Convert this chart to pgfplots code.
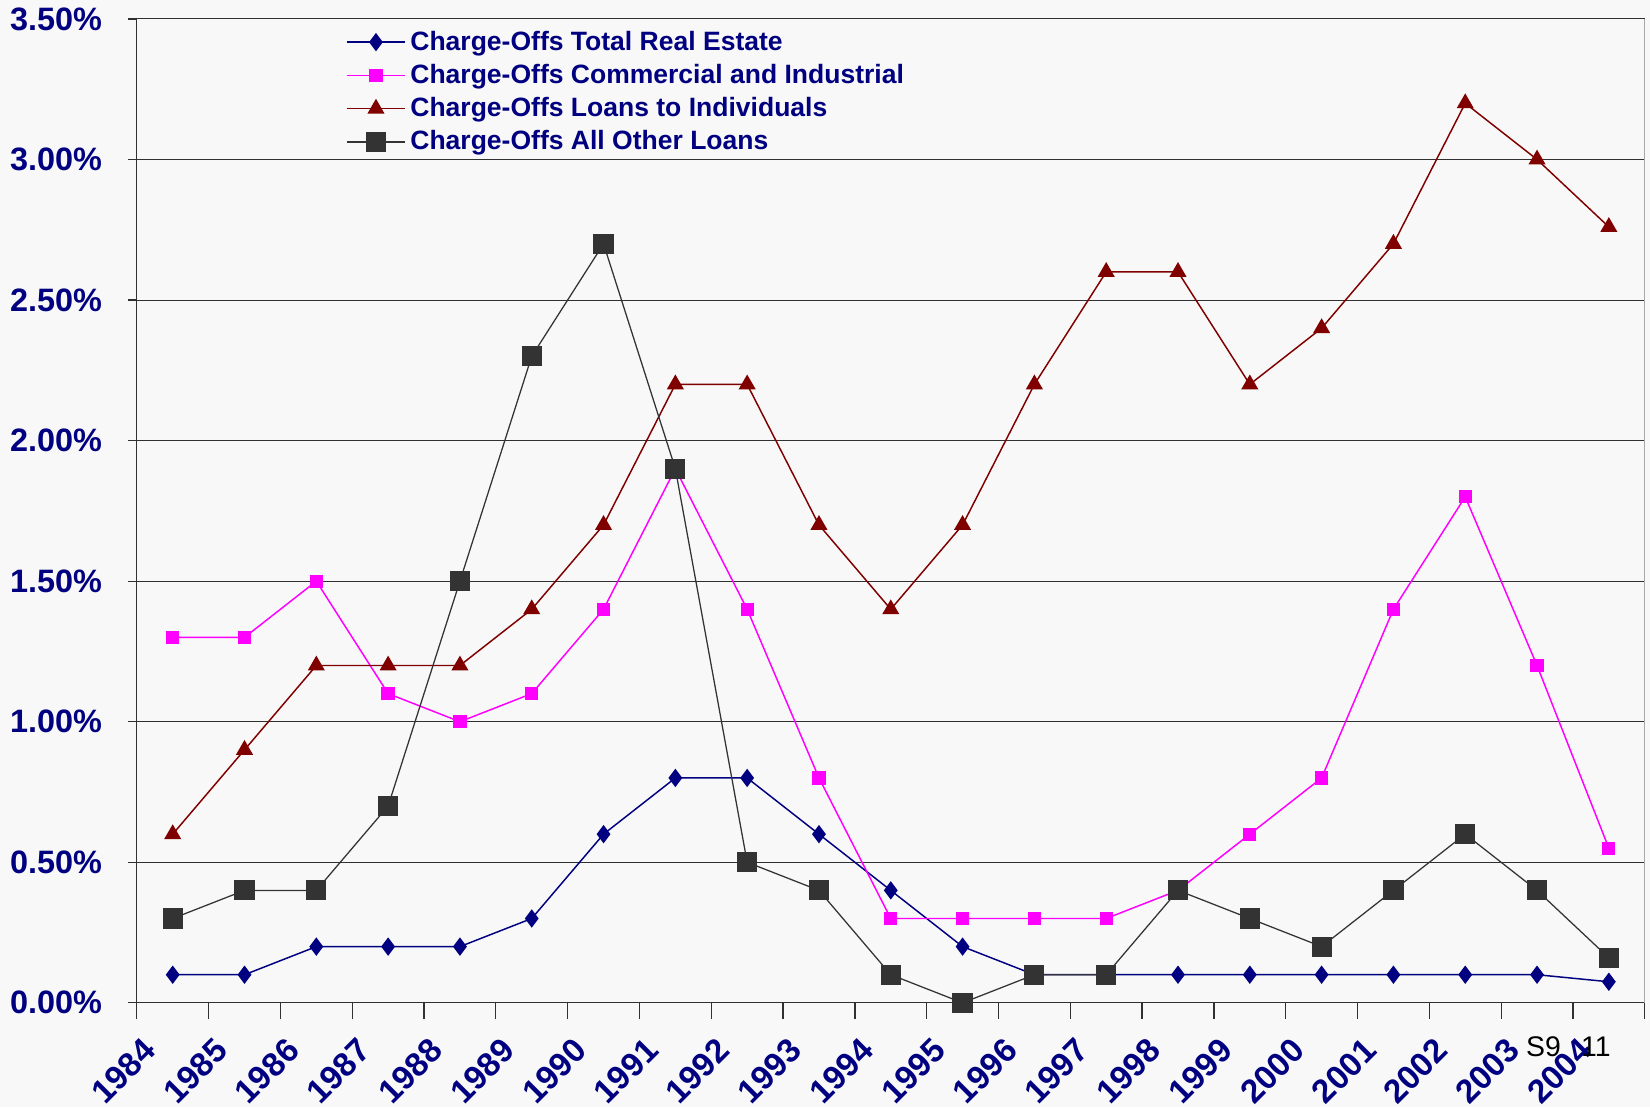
\documentclass[border=0pt]{standalone}
\usepackage{pgfplots}
\pgfplotsset{compat=1.18}
\usepackage{fontspec}
\setmainfont{Liberation Sans}
\usetikzlibrary{backgrounds}
\definecolor{bg}{HTML}{F8F8F8}
\definecolor{navyc}{HTML}{000080}
\definecolor{magc}{HTML}{FF00FF}
\definecolor{redc}{HTML}{800000}
\definecolor{grayc}{HTML}{333333}
\definecolor{gridc}{HTML}{303030}
\definecolor{bordc}{HTML}{A8A8A8}
\begin{document}
\begin{tikzpicture}
\begin{axis}[
  name=ax,
  scale only axis, width=716.5bp, height=467.5bp,
  xmin=-0.5, xmax=20.5, ymin=0, ymax=3.5,
  axis x line*=bottom, axis y line*=left,
  axis line style={draw=gridc, line width=0.6bp},
  clip=false,
  tick align=outside,
  major tick length=4bp,
  tick style={draw=gridc, line width=0.6bp},
  ytick={0,0.5,1,1.5,2,2.5,3,3.5},
  ymajorgrids, grid style={draw=gridc, line width=0.5bp},
  /pgf/number format/assume math mode=true,
  yticklabel={\pgfmathprintnumber[fixed,fixed zerofill,precision=2]{\tick}\%},
  yticklabel style={font=\fontsize{15.4bp}{18bp}\selectfont\bfseries, text=navyc, xshift=-9bp},
  xtick={0,...,20},
  xticklabels={1984,1985,1986,1987,1988,1989,1990,1991,1992,1993,1994,1995,1996,1997,1998,1999,2000,2001,2002,2003,2004},
  xtick style={draw=none},
  xticklabel style={font=\fontsize{15.8bp}{18bp}\selectfont\bfseries, text=navyc, xshift=-15bp, yshift=-7bp, rotate=45, anchor=north east},
  extra x ticks={-0.5,0.5,1.5,2.5,3.5,4.5,5.5,6.5,7.5,8.5,9.5,10.5,11.5,12.5,13.5,14.5,15.5,16.5,17.5,18.5,19.5,20.5},
  extra x tick labels={},
  extra x tick style={grid=none, major tick length=7.5bp, xtick style={draw=gridc, line width=0.6bp}},
  legend cell align=left,
  legend style={draw=none, fill=none, font=\fontsize{12.6bp}{15bp}\selectfont\bfseries, text=navyc,
    at={(axis description cs:0.1383,0.9925)}, anchor=north west, row sep=1.2bp, inner sep=0pt},
  legend image code/.code={\draw[mark repeat=2,mark phase=2,#1] plot coordinates {(0bp,0bp) (14bp,0bp) (28bp,0bp)};},
]
\addplot[navyc, line width=0.7bp, mark=diamond*, mark size=3.8bp, mark options={fill=navyc, draw=navyc, solid}] coordinates {
(0,0.1)(1,0.1)(2,0.2)(3,0.2)(4,0.2)(5,0.3)(6,0.6)(7,0.8)(8,0.8)(9,0.6)(10,0.4)
(11,0.2)(12,0.1)(13,0.1)(14,0.1)(15,0.1)(16,0.1)(17,0.1)(18,0.1)(19,0.1)(20,0.075)};
\addlegendentry{Charge-Offs Total Real Estate}
\addplot[magc, line width=0.7bp, mark=square*, mark size=2.8bp, mark options={fill=magc, draw=magc, solid}] coordinates {
(0,1.3)(1,1.3)(2,1.5)(3,1.1)(4,1.0)(5,1.1)(6,1.4)(7,1.9)(8,1.4)(9,0.8)(10,0.3)
(11,0.3)(12,0.3)(13,0.3)(14,0.4)(15,0.6)(16,0.8)(17,1.4)(18,1.8)(19,1.2)(20,0.55)};
\addlegendentry{Charge-Offs Commercial and Industrial}
\addplot[redc, line width=0.7bp, mark=triangle*, mark size=4bp, mark options={fill=redc, draw=redc, solid}] coordinates {
(0,0.6)(1,0.9)(2,1.2)(3,1.2)(4,1.2)(5,1.4)(6,1.7)(7,2.2)(8,2.2)(9,1.7)(10,1.4)
(11,1.7)(12,2.2)(13,2.6)(14,2.6)(15,2.2)(16,2.4)(17,2.7)(18,3.2)(19,3.0)(20,2.76)};
\addlegendentry{Charge-Offs Loans to Individuals}
\addplot[grayc, line width=0.6bp, mark=square*, mark size=4.5bp, mark options={fill=grayc, draw=grayc, solid}] coordinates {
(0,0.3)(1,0.4)(2,0.4)(3,0.7)(4,1.5)(5,2.3)(6,2.7)(7,1.9)(8,0.5)(9,0.4)(10,0.1)
(11,0.0)(12,0.1)(13,0.1)(14,0.4)(15,0.3)(16,0.2)(17,0.4)(18,0.6)(19,0.4)(20,0.16)};
\addlegendentry{Charge-Offs All Other Loans}
\draw[bordc, line width=0.6bp] (rel axis cs:1,0) -- (rel axis cs:1,1);
\node[font=\fontsize{13.5bp}{15bp}\selectfont, text=black] at (axis cs:19.09,-0.155) {S9};
\node[font=\fontsize{13.5bp}{15bp}\selectfont, text=black] at (axis cs:19.82,-0.155) {11};
\end{axis}
\pgfresetboundingbox
\path ([xshift=-65bp,yshift=-49.5bp]ax.south west) rectangle ([xshift=2.5bp,yshift=9bp]ax.north east);
\begin{scope}[on background layer]
\fill[bg] ([xshift=-65bp,yshift=-49.5bp]ax.south west) rectangle ([xshift=2.5bp,yshift=9bp]ax.north east);
\end{scope}
\end{tikzpicture}
\end{document}
